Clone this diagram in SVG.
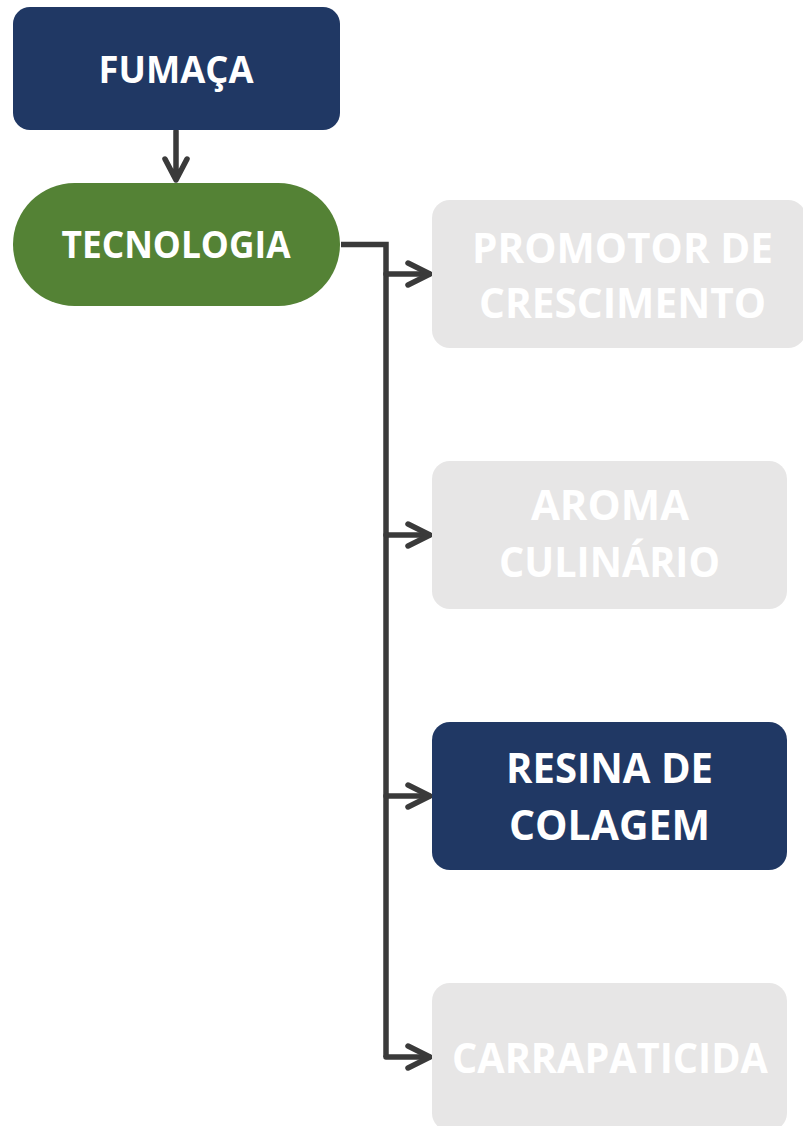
<svg xmlns="http://www.w3.org/2000/svg" width="803" height="1126" viewBox="0 0 803 1126">
<defs>
<style>
.t{font-family:"Open Sans","Liberation Sans",sans-serif;font-weight:bold;fill:#FFFFFF;text-anchor:middle}
.s{font-size:38px}
.b{font-size:42px}
.navy{fill:#203864}
.green{fill:#548235}
.gray{fill:#E7E6E6}
.c{fill:none;stroke:#3A3A3A;stroke-width:5.5;stroke-linecap:round;stroke-linejoin:miter}
</style>
</defs>
<rect width="803" height="1126" fill="#FFFFFF"/>
<g id="connectors">
<path class="c" d="M176 131 V179 M165 159 L176 180 L187 159" style="stroke-linejoin:round"/>
<path class="c" d="M341 244.5 H386 V1057" style="stroke-linecap:butt"/>
<path class="c" d="M386 274 H429 M386 535 H429 M386 796 H429 M386 1057 H429"/>
<path class="c" d="M408 263 L430 274 L408 285 M408 524 L430 535 L408 546 M408 785 L430 796 L408 807 M408 1046 L430 1057 L408 1068" style="stroke-linejoin:round"/>
</g>
<g id="fumaca">
<rect class="navy" x="13" y="7" width="327" height="123" rx="17"/>
<text class="t s" x="176" y="83" textLength="155" lengthAdjust="spacingAndGlyphs">FUMAÇA</text>
</g>
<g id="tecnologia">
<rect class="green" x="13" y="183" width="327" height="123" rx="61.5"/>
<text class="t s" x="176" y="258" textLength="229" lengthAdjust="spacingAndGlyphs">TECNOLOGIA</text>
</g>
<g id="promotor">
<rect class="gray" x="432" y="200" width="374" height="148" rx="18"/>
<text class="t b" x="622.5" y="263" textLength="301" lengthAdjust="spacingAndGlyphs">PROMOTOR DE</text>
<text class="t b" x="622.5" y="318" textLength="287" lengthAdjust="spacingAndGlyphs">CRESCIMENTO</text>
</g>
<g id="aroma">
<rect class="gray" x="432" y="461" width="355" height="148" rx="18"/>
<text class="t b" x="610" y="520" textLength="158" lengthAdjust="spacingAndGlyphs">AROMA</text>
<text class="t b" x="609.5" y="577" textLength="221" lengthAdjust="spacingAndGlyphs">CULINÁRIO</text>
</g>
<g id="resina">
<rect class="navy" x="432" y="722" width="355" height="148" rx="18"/>
<text class="t b" x="609.5" y="783" textLength="207" lengthAdjust="spacingAndGlyphs">RESINA DE</text>
<text class="t b" x="609.5" y="840" textLength="201" lengthAdjust="spacingAndGlyphs">COLAGEM</text>
</g>
<g id="carrapaticida">
<rect class="gray" x="432" y="983" width="355" height="148" rx="18"/>
<text class="t b" x="610" y="1073" textLength="316" lengthAdjust="spacingAndGlyphs">CARRAPATICIDA</text>
</g>
</svg>
